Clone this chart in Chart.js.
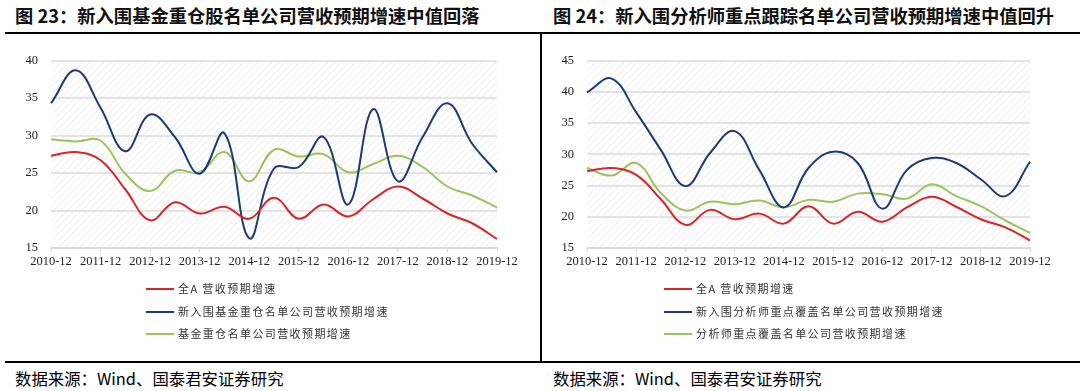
<!DOCTYPE html>
<html>
<head>
<meta charset="utf-8">
<script src="https://cdn.jsdelivr.net/npm/chart.js@4"></script>
<style>
  body { margin: 0; background: #fff; width: 1080px; height: 391px; position: relative; overflow: hidden; }
  .title { position: absolute; top: 2px; font: 700 18.3px "Noto Sans CJK SC", sans-serif; color: #111; white-space: nowrap; }
  .source { position: absolute; top: 366px; font: 16.4px "Noto Sans CJK SC", sans-serif; color: #000; white-space: nowrap; }
  .hline { position: absolute; left: 5px; right: 0; height: 2px; background: #000; }
  .vline { position: absolute; left: 540px; top: 33px; width: 2px; height: 330px; background: #000; }
  .box { position: absolute; top: 40px; height: 240px; }
  .legend { position: absolute; font: 11px "Noto Sans CJK SC", serif; letter-spacing: 1.4px; color: #333; }
  .legend div { height: 22.5px; line-height: 22px; white-space: nowrap; }
  .legend span { display: inline-block; width: 28px; height: 2px; vertical-align: middle; margin-right: 4px; position: relative; top: -1px; }
</style>
</head>
<body>
<div class="title" style="left:15px">图 23：新入围基金重仓股名单公司营收预期增速中值回落</div>
<div class="title" style="left:553px">图 24：新入围分析师重点跟踪名单公司营收预期增速中值回升</div>
<div class="hline" style="top:32px"></div>
<div class="vline"></div>
<div class="hline" style="top:361px"></div>
<div class="box" style="left:0;width:540px"><canvas id="c1"></canvas></div>
<div class="box" style="left:541px;width:539px"><canvas id="c2"></canvas></div>
<div class="legend" id="lg1" style="left:146px;top:277px"></div>
<div class="legend" id="lg2" style="left:664px;top:277px"></div>
<div class="source" style="left:15px">数据来源：Wind、国泰君安证券研究</div>
<div class="source" style="left:553px">数据来源：Wind、国泰君安证券研究</div>
<script>
// half-year points, only Dec labels shown
var periods = ['2010-12','2011-06','2011-12','2012-06','2012-12','2013-06','2013-12','2014-06','2014-12',
  '2015-06','2015-12','2016-06','2016-12','2017-06','2017-12','2018-06','2018-12','2019-06','2019-12'];

// 全A
var allA = [27.3,27.8,26.7,22.8,18.7,21.1,19.6,20.5,18.9,21.7,18.9,20.8,19.2,21.5,23.2,21.6,19.6,18.3,16.2];

// 图23
var newFund = [34.3,38.7,33.7,27.9,32.8,29.8,24.9,30.3,16.3,25.6,25.8,29.8,20.8,33.5,23.9,29.8,34.3,28.9,25.1];
var fund = [29.5,29.2,29.3,24.9,22.6,25.3,25.1,27.8,23.9,28.1,27.2,27.5,25.1,26.2,27.3,25.8,23.2,22.0,20.4];

// 图24
var newAnalyst = [39.9,42.1,36.7,30.7,24.9,30.2,33.7,27.5,21.5,27.8,30.4,28.6,21.3,27.5,29.4,28.6,26.0,23.3,28.8];
var analyst = [27.8,26.6,28.6,23.8,21.0,22.4,22.0,22.6,21.5,22.7,22.4,23.7,23.6,22.9,25.2,23.3,21.7,19.4,17.4];

var RED = '#d7262b', BLUE = '#1f3a73', GREEN = '#9dc35c';
var SERIF = "'Liberation Serif', 'Times New Roman', serif";

// hatched plot background
var hatch = (function () {
  var p = document.createElement('canvas');
  p.width = 7; p.height = 7;
  var g = p.getContext('2d');
  g.strokeStyle = '#f0f0f0';
  g.lineWidth = 1.2;
  g.beginPath();
  g.moveTo(0, 7); g.lineTo(7, 0);
  g.moveTo(-1, 1); g.lineTo(1, -1);
  g.moveTo(6, 8); g.lineTo(8, 6);
  g.stroke();
  return p;
})();

var hatchPlugin = {
  id: 'hatch',
  beforeDraw: function (chart) {
    var a = chart.chartArea, ctx = chart.ctx;
    ctx.save();
    ctx.fillStyle = ctx.createPattern(hatch, 'repeat');
    ctx.fillRect(a.left, a.top, a.right - a.left, a.bottom - a.top);
    ctx.restore();
  }
};

function makeChart(canvasId, legendId, series, yMax, yWidth, padRight) {
  var datasets = series.map(function (s) {
    return {
      label: s.label, data: s.data, borderColor: s.color, backgroundColor: s.color,
      borderWidth: 2, pointRadius: 0, tension: 0.4, fill: false
    };
  });
  var chart = new Chart(document.getElementById(canvasId), {
    type: 'line',
    data: { labels: periods, datasets: datasets },
    plugins: [hatchPlugin],
    options: {
      responsive: true,
      maintainAspectRatio: false,
      animation: false,
      layout: { padding: { top: 19, right: padRight, bottom: 0, left: 0 } },
      plugins: { legend: { display: false }, tooltip: { enabled: false } },
      scales: {
        x: {
          grid: { display: true, drawOnChartArea: false, color: '#d9d9d9', tickLength: 4, lineWidth: 1 },
          border: { color: '#d9d9d9', width: 2 },
          ticks: {
            autoSkip: false, maxRotation: 0, padding: 2, color: '#222',
            font: { family: SERIF, size: 12.5 },
            callback: function (v, i) { return i % 2 === 0 ? periods[i] : null; }
          },
          afterFit: function (s) { s.height = 32; }
        },
        y: {
          min: 15, max: yMax,
          grid: { color: '#e3e3e3', lineWidth: 2, drawTicks: false },
          border: { display: false },
          ticks: { stepSize: 5, padding: 13, color: '#222', font: { family: SERIF, size: 12.5 } },
          afterFit: function (s) { s.width = yWidth; }
        }
      }
    }
  });
  var lg = document.getElementById(legendId);
  datasets.forEach(function (d) {
    var row = document.createElement('div');
    row.innerHTML = '<span style="background:' + d.borderColor + '"></span>' + d.label;
    lg.appendChild(row);
  });
  return chart;
}

makeChart('c1', 'lg1', [
  { label: '全A 营收预期增速', data: allA, color: RED },
  { label: '新入围基金重仓名单公司营收预期增速', data: newFund, color: BLUE },
  { label: '基金重仓名单公司营收预期增速', data: fund, color: GREEN }
], 40, 51, 43);

makeChart('c2', 'lg2', [
  { label: '全A 营收预期增速', data: allA, color: RED },
  { label: '新入围分析师重点覆盖名单公司营收预期增速', data: newAnalyst, color: BLUE },
  { label: '分析师重点覆盖名单公司营收预期增速', data: analyst, color: GREEN }
], 45, 46, 50);
</script>
</body>
</html>
